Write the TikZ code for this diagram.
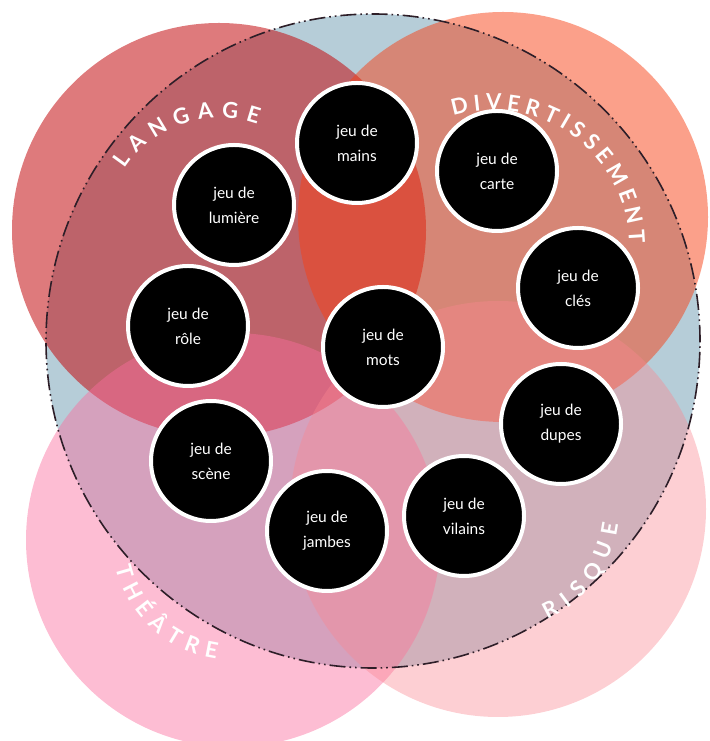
\documentclass[tikz,border=0pt]{standalone}
\usepackage{fontspec}
\setmainfont{Lato}
\usetikzlibrary{decorations.text}
\definecolor{fondbleu}{RGB}{182,205,216}
\definecolor{langage}{RGB}{195,13,16}
\definecolor{divert}{RGB}{247,65,21}
\definecolor{theatre}{RGB}{251,109,158}
\definecolor{risque}{RGB}{250,135,145}
\definecolor{pointille}{RGB}{45,30,40}
\newcommand{\lblfont}{\fontsize{22}{22}\selectfont\bfseries\color{white}}

\begin{document}
\begin{tikzpicture}[x=1pt,y=1pt,inner sep=0,
  jeu/.style={circle,draw=white,line width=4pt,fill=black,text=white,
    minimum size=120pt,align=center,font=\fontsize{15.5}{25}\selectfont},
  arclabel/.style={decorate,decoration={text along path,
    text align={fit to path},text={|\lblfont|#1}}}]
\useasboundingbox (0,0) rectangle (709,741);
%circles
\fill[fondbleu] (373,400) circle (327);
\fill[langage,opacity=.55] (219,511) circle (207);
\fill[divert,opacity=.5] (503,524) circle (205);
\fill[theatre,opacity=.45] (233,201) circle (207);
\fill[risque,opacity=.4] (498,232) circle (208);
\draw[pointille,line width=1.6pt,dash pattern=on 16pt off 4pt on 1.6pt off 4pt on 1.6pt off 4pt]
  (373,400) circle (327);
%labels
\path[arclabel=LANGAGE] (219,511) ++(147:112) arc[start angle=147,end angle=70,radius=112];
\path[arclabel=DIVERTISSEMENT] (493,495) ++(107:136) arc[start angle=107,end angle=1,radius=136];
\path[arclabel=THÉÂTRE] (233,201) ++(193:120) arc[start angle=193,end angle=262,radius=120];
\path[arclabel=RISQUE] (498,232) ++(-66:121) arc[start angle=-66,end angle=-7,radius=121];
%jeux
\node[jeu] (mains) at (357,598) {jeu de\\mains};
\node[jeu] (lumiere) at (234,536) {jeu de\\lumière};
\node[jeu] (role) at (188,415) {jeu de\\rôle};
\node[jeu] (carte) at (497,570) {jeu de\\carte};
\node[jeu] (cles) at (578,453) {jeu de\\clés};
\node[jeu] (mots) at (383,394) {jeu de\\mots};
\node[jeu] (dupes) at (561,317) {jeu de\\dupes};
\node[jeu] (vilains) at (464,225) {jeu de\\vilains};
\node[jeu] (jambes) at (327,210) {jeu de\\jambes};
\node[jeu] (scene) at (211,280) {jeu de\\scène};
\end{tikzpicture}
\end{document}
